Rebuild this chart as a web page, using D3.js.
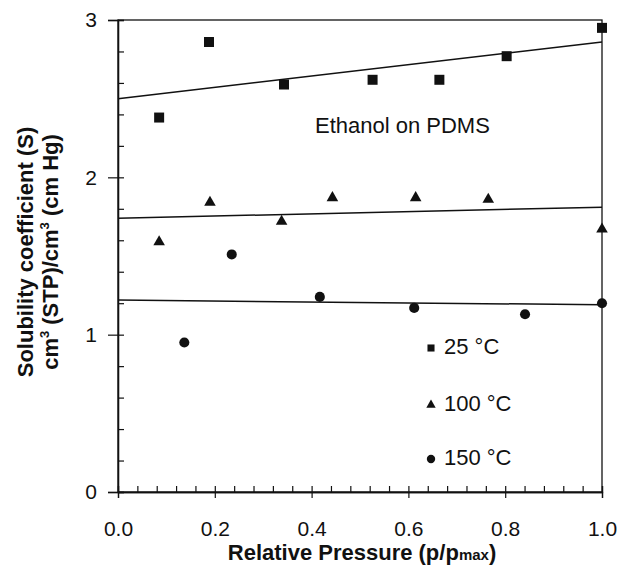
<!DOCTYPE html>
<html>
<head>
<meta charset="utf-8">
<script src="https://cdn.jsdelivr.net/npm/d3@7"></script>
<style>
  body { margin: 0; background: #fff; }
  text { font-family: "Liberation Sans", Arial, sans-serif; fill: #111; }
</style>
</head>
<body>
<div id="app"></div>
<script>
// data
const p25 = [0.085, 0.188, 0.343, 0.526, 0.664, 0.803, 1.0];
const s25 = [2.38, 2.86, 2.59, 2.62, 2.62, 2.77, 2.95];
const p100 = [0.085, 0.19, 0.338, 0.443, 0.615, 0.765, 1.0];
const s100 = [1.59, 1.84, 1.72, 1.87, 1.87, 1.86, 1.67];
const p150 = [0.137, 0.235, 0.417, 0.612, 0.841, 1.0];
const s150 = [0.95, 1.51, 1.24, 1.17, 1.13, 1.20];
// linear fits, value at p=0 and p=1
const fitX = [0, 1];
const fit25 = [2.50, 2.86];
const fit100 = [1.74, 1.81];
const fit150 = [1.22, 1.19];
const xTicks = [0, 0.2, 0.4, 0.6, 0.8, 1.0];
const yTicks = [0, 1, 2, 3];
const legendLabels = ["25 °C", "100 °C", "150 °C"];

const W = 619, H = 571;
const mLeft = 118, mRight = 602, mTop = 20, mBottom = 492;

const svg = d3.select("#app").append("svg")
    .attr("width", W)
    .attr("height", H);

const x = d3.scaleLinear().domain([0, 1]).range([mLeft, mRight]);
const y = d3.scaleLinear().domain([0, 3]).range([mBottom, mTop]);

// frame
svg.append("rect")
    .attr("x", mLeft).attr("y", mTop)
    .attr("width", mRight - mLeft).attr("height", mBottom - mTop)
    .attr("fill", "none").attr("stroke", "#111").attr("stroke-width", 1.3);

// x axis: labels + outer half of major ticks
svg.append("g")
    .attr("class", "xaxis")
    .attr("transform", "translate(0," + mBottom + ")")
    .call(d3.axisBottom(x).tickValues(xTicks).tickFormat(d3.format(".1f"))
        .tickSize(6).tickPadding(23));
// inner ticks (minor every 0.04)
svg.append("g")
    .attr("class", "xminor")
    .attr("transform", "translate(0," + mBottom + ")")
    .call(d3.axisTop(x).tickValues(d3.range(0, 1.0001, 0.04)).tickFormat("")
        .tickSize(6));

// y axis
svg.append("g")
    .attr("class", "yaxis")
    .attr("transform", "translate(" + mLeft + ",0)")
    .call(d3.axisLeft(y).tickValues(yTicks).tickFormat(d3.format("d"))
        .tickSize(10).tickPadding(11));
svg.append("g")
    .attr("class", "yminor")
    .attr("transform", "translate(" + mLeft + ",0)")
    .call(d3.axisRight(y).tickValues(d3.range(0, 3.0001, 0.2)).tickFormat("")
        .tickSize(6));

svg.selectAll(".domain").attr("stroke", "#111").attr("stroke-width", 1.3);
svg.selectAll(".tick line").attr("stroke", "#111").attr("stroke-width", 1.2);
svg.selectAll(".xaxis text, .yaxis text")
    .style("font-size", "21px")
    .attr("fill", "#111");

// fit lines
const line = d3.line().x(d => x(d[0])).y(d => y(d[1]));
[fit25, fit100, fit150].forEach(f => {
    svg.append("path")
        .datum(fitX.map((p, i) => [p, f[i]]))
        .attr("d", line)
        .attr("fill", "none")
        .attr("stroke", "#111")
        .attr("stroke-width", 1.5);
});

// markers
const series = [
    {px: p25, sy: s25, sym: d3.symbolSquare, size: 100},
    {px: p100, sy: s100, sym: d3.symbolTriangle, size: 58},
    {px: p150, sy: s150, sym: d3.symbolCircle, size: 80}
];
series.forEach(s => {
    svg.append("g").selectAll("path")
        .data(s.px.map((p, i) => [p, s.sy[i]]))
        .enter()
        .append("path")
            .attr("transform", d => "translate(" + x(d[0]) + "," + y(d[1]) + ")")
            .attr("d", d3.symbol().type(s.sym).size(s.size))
            .attr("fill", "#111");
});

// annotation
svg.append("text")
    .attr("x", 315).attr("y", 133)
    .style("font-size", "22px")
    .text("Ethanol on PDMS");

// legend
const legY = [348, 405, 459];
const legSym = [[d3.symbolSquare, 50], [d3.symbolTriangle, 38], [d3.symbolCircle, 55]];
legendLabels.forEach((lab, i) => {
    svg.append("path")
        .attr("transform", "translate(431," + legY[i] + ")")
        .attr("d", d3.symbol().type(legSym[i][0]).size(legSym[i][1]))
        .attr("fill", "#111");
    svg.append("text")
        .attr("x", 444).attr("y", legY[i] + 6)
        .style("font-size", "22px")
        .text(lab);
});

// axis titles
const xt = svg.append("text")
    .attr("x", (mLeft + mRight) / 2 + 2).attr("y", 560)
    .attr("text-anchor", "middle")
    .style("font-size", "22px").style("font-weight", "bold");
xt.append("tspan").text("Relative Pressure (p/p");
xt.append("tspan").style("font-size", "15px").text("max");
xt.append("tspan").text(")");

const yt = svg.append("g")
    .attr("transform", "translate(0," + 252 + ") rotate(-90)");
yt.append("text")
    .attr("x", 0).attr("y", 33)
    .attr("text-anchor", "middle")
    .style("font-size", "22px").style("font-weight", "bold")
    .text("Solubility coefficient (S)");
const yt2 = yt.append("text")
    .attr("x", 0).attr("y", 58)
    .attr("text-anchor", "middle")
    .style("font-size", "22px").style("font-weight", "bold");
yt2.append("tspan").text("cm");
yt2.append("tspan").attr("dy", -9).style("font-size", "13px").text("3");
yt2.append("tspan").attr("dy", 9).text(" (STP)/cm");
yt2.append("tspan").attr("dy", -9).style("font-size", "13px").text("3");
yt2.append("tspan").attr("dy", 9).text(" (cm Hg)");
</script>
</body>
</html>
